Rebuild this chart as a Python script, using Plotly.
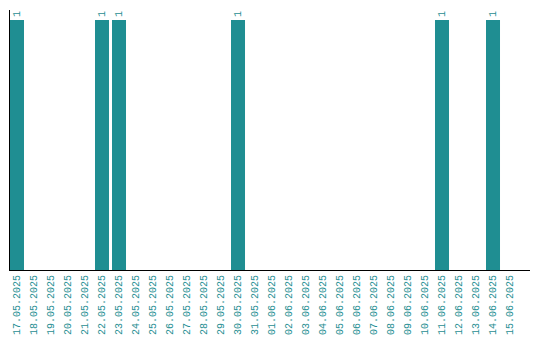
import plotly.graph_objects as go

dates = ["17.05.2025","18.05.2025","19.05.2025","20.05.2025","21.05.2025","22.05.2025",
         "23.05.2025","24.05.2025","25.05.2025","26.05.2025","27.05.2025","28.05.2025",
         "29.05.2025","30.05.2025","31.05.2025","01.06.2025","02.06.2025","03.06.2025",
         "04.06.2025","05.06.2025","06.06.2025","07.06.2025","08.06.2025","09.06.2025",
         "10.06.2025","11.06.2025","12.06.2025","13.06.2025","14.06.2025","15.06.2025"]
values = [1,0,0,0,0,1,1,0,0,0,0,0,0,1,0,0,0,0,0,0,0,0,0,0,0,1,0,0,1,0]
labels = [str(v) if v else "" for v in values]

teal = "#1f8e92"
fig = go.Figure(go.Bar(
    x=dates, y=values, marker_color=teal, marker_line_width=0,
    text=labels, textposition="outside", textangle=-90,
    textfont=dict(family="Liberation Mono", size=10, color=teal),
    cliponaxis=False,
))
fig.update_layout(
    width=540, height=340, margin=dict(l=10, r=10, t=10, b=70),
    plot_bgcolor="white", paper_bgcolor="white", showlegend=False, bargap=0.176,
    uniformtext=dict(minsize=10, mode="show"),
    font=dict(family="Liberation Mono", size=10, color=teal),
)
fig.update_xaxes(type="category", tickangle=-90, showline=True, linecolor="black",
                 linewidth=1, ticks="", showgrid=False, automargin=False,
                 range=[-0.4118, 30.176],
                 tickfont=dict(family="Liberation Mono", size=10, color=teal))
fig.update_yaxes(range=[0, 1.04], showline=True, linecolor="black", linewidth=1,
                 showticklabels=False, ticks="", showgrid=False, zeroline=False,
                 automargin=False)
fig.write_html("out.html", config={"displayModeBar": False, "staticPlot": True})

with open("out.html", "r", encoding="utf-8") as f:
    html = f.read()
html = html.replace("<body>", '<body style="margin:0;padding:0;overflow:hidden">', 1)
with open("out.html", "w", encoding="utf-8") as f:
    f.write(html)
